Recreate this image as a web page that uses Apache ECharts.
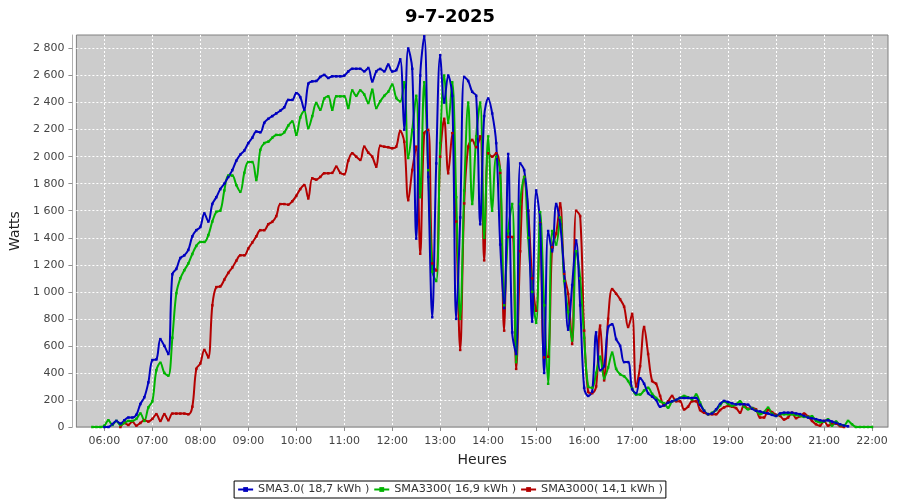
<!DOCTYPE html>
<html><head><meta charset="utf-8">
<script src="https://cdn.jsdelivr.net/npm/echarts@6/dist/echarts.min.js"></script>
<style>html,body{margin:0;padding:0;background:#fff}#c{width:900px;height:500px}</style>
</head><body><div id="c"></div>
<script>
const chartTitle = '9-7-2025';
const xName = 'Heures';
const yName = 'Watts';
const seriesNames = ['SMA3.0( 18,7 kWh )', 'SMA3300( 16,9 kWh )', 'SMA3000( 14,1 kWh )'];
const axisStart = '05:25';
const axisEnd = '22:20';
const firstSample = '05:45';   // samples every 5 minutes from here
const hourLabels = ['06:00','07:00','08:00','09:00','10:00','11:00','12:00','13:00','14:00','15:00','16:00','17:00','18:00','19:00','20:00','21:00','22:00'];
const yTicks = [0,200,400,600,800,1000,1200,1400,1600,1800,2000,2200,2400,2600,2800];

const sma30 = [
null,null,null,0,0,20,45,25,50,70,
70,90,170,220,330,495,500,650,600,540,
1130,1170,1250,1270,1310,1410,1456,1480,1580,1520,
1650,1700,1760,1800,1850,1900,1970,2015,2045,2100,
2140,2186,2180,2250,2280,2300,2320,2340,2365,2420,
2420,2470,2440,2347,2540,2557,2560,2590,2605,2582,
2594,2594,2594,2600,2630,2650,2650,2650,2631,2656,
2557,2630,2649,2631,2681,2630,2640,2720,2200,2800,
2650,1394,2600,2890,1850,812,1950,2750,2400,2600,
2450,800,1550,2590,2560,2480,2450,1500,2300,2430,
2320,2100,1350,880,2020,700,540,1950,1900,1600,
780,1750,1500,400,1450,1300,1650,1500,1150,720,
1050,1380,900,290,230,260,700,420,450,740,
760,650,600,480,480,280,250,360,320,250,
225,200,150,160,180,190,200,215,215,215,
215,215,165,120,95,100,130,170,193,185,
175,168,168,168,165,135,120,115,106,100,
90,82,100,106,106,106,100,95,82,70,
64,58,50,45,50,40,30,20,10,5,
null,null,null,null,null,null
];
const sma3300 = [
0,0,0,10,50,15,45,15,30,45,
45,60,100,45,145,190,420,475,400,380,
660,990,1100,1160,1210,1280,1340,1369,1369,1420,
1520,1592,1600,1750,1860,1860,1790,1740,1880,1960,
1960,1827,2050,2100,2111,2140,2161,2161,2180,2230,
2260,2161,2290,2340,2211,2300,2397,2347,2430,2446,
2347,2446,2446,2446,2360,2490,2450,2490,2460,2397,
2495,2360,2410,2450,2480,2533,2434,2409,2550,1990,
2198,2450,1700,2550,1900,1150,1080,2100,2600,2250,
2550,1700,800,1750,2400,1650,2150,2400,1400,2150,
1600,2000,1900,900,1450,1650,480,1650,1850,1400,
1000,770,1590,900,320,1450,1350,1550,1080,850,
640,1300,1100,660,300,290,400,520,360,440,
550,430,390,375,340,285,240,240,270,290,
245,215,190,175,143,190,200,215,230,220,
205,240,180,120,95,105,125,160,190,170,
156,168,190,150,131,140,120,95,110,143,
100,82,94,94,94,94,88,82,75,75,
80,45,35,40,57,10,40,15,10,45,
20,0,0,0,0,0
];
const sma3000 = [
null,null,null,null,null,null,null,0,30,15,
40,10,30,50,40,60,95,45,95,50,
99,99,99,99,94,150,430,470,570,515,
900,1035,1040,1090,1140,1180,1230,1270,1270,1320,
1365,1410,1456,1456,1500,1518,1560,1649,1649,1645,
1670,1710,1760,1790,1691,1840,1830,1850,1877,1877,
1880,1926,1880,1870,1970,2025,2000,1976,2074,2030,
2000,1926,2080,2074,2070,2062,2074,2190,2110,1678,
1901,2074,1282,2174,2198,1210,1158,2000,2280,1877,
2174,1520,570,1654,2074,2124,2070,2150,1233,2025,
2000,2025,1880,713,1406,1406,430,1300,1850,1600,
1100,860,1505,515,520,1330,1431,1654,1134,986,
614,1600,1560,713,260,250,300,750,345,800,
1020,986,945,890,740,837,300,450,740,540,
340,320,230,160,190,230,190,190,130,150,
190,190,125,106,95,94,94,125,145,156,
150,140,106,165,135,140,130,70,70,125,
110,90,82,55,70,106,65,80,99,78,
45,20,10,45,10,20,25,7,0,null,
null,null,null,null,null,null
];
const colors = ['#0000bf', '#00b400', '#b40000'];

function toMin(s){ const p = s.split(':').map(Number); return p[0]*60 + p[1]; }
function fmt(m){ const h = Math.floor(m/60), mm = m%60; return String(h).padStart(2,'0') + ':' + String(mm).padStart(2,'0'); }
const categories = [];
for (let m = toMin(axisStart); m <= toMin(axisEnd); m += 5) categories.push(fmt(m));
const offset = (toMin(firstSample) - toMin(axisStart)) / 5;
function pad(arr){ return categories.map((c, i) => { const k = i - offset; return (k >= 0 && k < arr.length) ? arr[k] : null; }); }
const isHour = (idx, val) => hourLabels.indexOf(val) >= 0;
const thousands = v => String(v).replace(/\B(?=(\d{3})+(?!\d))/g, ' ');

const font = 'DejaVu Sans';
const values = [sma30, sma3300, sma3000];
const order = [2, 1, 0]; // draw red first, blue on top
const series = order.map(i => ({
  name: seriesNames[i], type: 'line', data: pad(values[i]),
  smooth: 0.35, showSymbol: true, showAllSymbol: true, symbol: 'rect', symbolSize: 2.5,
  lineStyle: { width: 2, color: colors[i] }, itemStyle: { color: colors[i] },
  emphasis: { disabled: true }, animation: false, connectNulls: false
}));

const chart = echarts.init(document.getElementById('c'), null, { renderer: 'canvas' });
chart.setOption({
  animation: false,
  title: { text: chartTitle, left: 'center', top: 3, textStyle: { fontFamily: font, fontSize: 18, fontWeight: 'bold', color: '#000' } },
  grid: { left: 75, right: 12, top: 35, bottom: 73, show: true, backgroundColor: '#cccccc', borderColor: '#808080', borderWidth: 1 },
  legend: {
    data: seriesNames, bottom: 2, left: 'center', selectedMode: false,
    backgroundColor: '#fff', borderColor: '#000', borderWidth: 1, padding: [3, 3],
    itemWidth: 15, itemHeight: 6, itemGap: 4,
    textStyle: { fontFamily: font, fontSize: 11.2, color: '#333' }
  },
  xAxis: {
    type: 'category', data: categories, boundaryGap: false, offset: 4,
    name: xName, nameLocation: 'middle', nameGap: 22,
    nameTextStyle: { fontFamily: font, fontSize: 14, color: '#222' },
    axisLine: { show: true, lineStyle: { color: '#b0b0b0' } },
    axisTick: { show: true, interval: isHour, length: 4, lineStyle: { color: '#909090' } },
    axisLabel: { interval: isHour, fontFamily: font, fontSize: 11, color: '#444', margin: 5 },
    splitLine: { show: true, interval: isHour, lineStyle: { color: '#ffffff', type: [2, 2], width: 1 } }
  },
  yAxis: {
    type: 'value', min: 0, max: 2900, interval: 200, offset: 4,
    name: yName, nameLocation: 'middle', nameGap: 46, nameRotate: 90,
    nameTextStyle: { fontFamily: font, fontSize: 14, color: '#222' },
    axisLine: { show: true, lineStyle: { color: '#b0b0b0' } },
    axisTick: { show: true, length: 4, customValues: yTicks, lineStyle: { color: '#909090' } },
    axisLabel: { fontFamily: font, fontSize: 11, color: '#444', margin: 8, customValues: yTicks, formatter: thousands },
    splitLine: { show: true, lineStyle: { color: '#ffffff', type: [2, 2], width: 1 } }
  },
  series: series
});
</script></body></html>
